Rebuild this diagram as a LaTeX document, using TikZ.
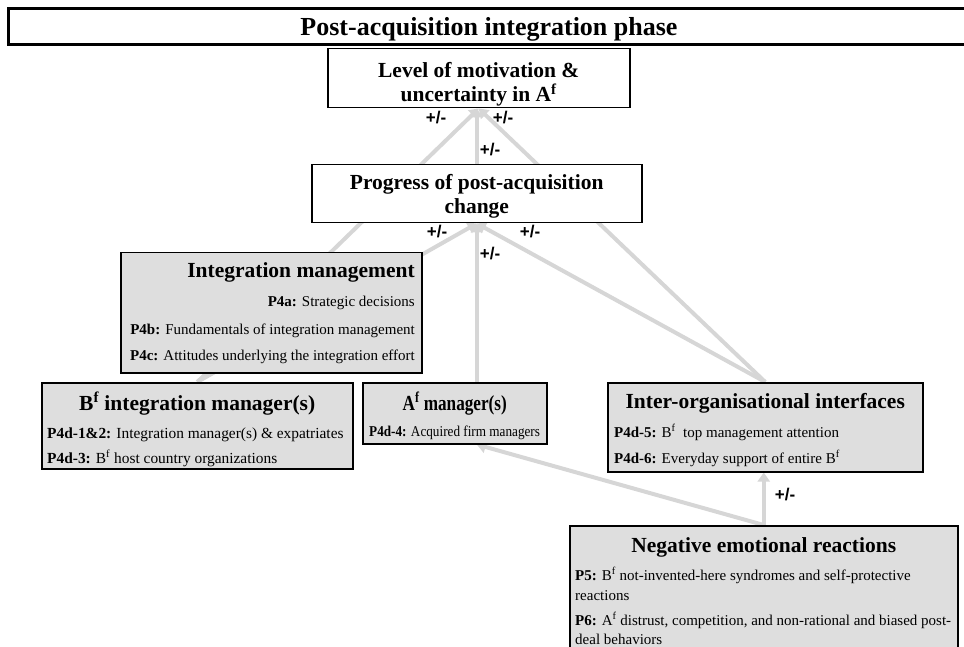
\documentclass[tikz,border=0pt]{standalone}
\usepackage{fontspec}
\setmainfont{Liberation Serif}
\newfontfamily\signfont{Liberation Sans}
\usetikzlibrary{arrows.meta}
\pgfdeclarelayer{background}
\pgfsetlayers{background,main}
\definecolor{boxgrey}{RGB}{222,222,222}
\definecolor{linkgrey}{RGB}{214,214,214}

\tikzset{
  plainbox/.style={draw=black, line width=1.5pt, fill=white, anchor=north west, inner sep=0pt},
  greybox/.style={plainbox, fill=boxgrey},
  link/.style={draw=linkgrey, line width=4pt, -{Triangle[length=9pt,width=12pt]}},
  head/.style={font=\fontsize{21.5}{24}\selectfont\bfseries, inner sep=0pt},
  body/.style={font=\fontsize{15}{18}\selectfont, inner sep=0pt},
  sign/.style={font=\signfont\bfseries\fontsize{17}{20}\selectfont, inner sep=0pt},
}

\begin{document}
\begin{tikzpicture}[x=1pt,y=-1pt]
\useasboundingbox (0,0) rectangle (964,647);
\clip (0,0) rectangle (964,647);

% phase banner
\node[plainbox, line width=3pt, minimum width=980pt, minimum height=36pt] (phase) at (7,7) {};
\node[font=\fontsize{26}{30}\selectfont\bfseries, inner sep=0pt, anchor=base] (phase-t) at (489,36) {Post-acquisition integration phase};

% outcome boxes
\node[plainbox, minimum width=302pt, minimum height=59pt] (lvl) at (327,48) {};
\node[head, anchor=base] (lvl-1) at (lvl.center |- 0,78) {Level of motivation \&};
\node[head, anchor=base] (lvl-2) at (lvl.center |- 0,102) {uncertainty in A\textsuperscript{f}};

\node[plainbox, minimum width=330pt, minimum height=58pt] (prog) at (311,164) {};
\node[head, anchor=base] (prog-1) at (prog.center |- 0,190) {Progress of post-acquisition};
\node[head, anchor=base] (prog-2) at (prog.center |- 0,214) {change};

% integration management
\node[greybox, minimum width=301pt, minimum height=120pt] (im) at (120,252) {};
\node[head, anchor=base east] (im-h) at (415,277) {Integration management};
\node[body, anchor=base east] (im-a) at (415,306) {\textbf{P4a:} Strategic decisions};
\node[body, anchor=base east] (im-b) at (415,334) {\textbf{P4b:} Fundamentals of integration management};
\node[body, anchor=base east] (im-c) at (415,360) {\textbf{P4c:} Attitudes underlying the integration effort};

% B^f integration managers
\node[greybox, minimum width=311pt, minimum height=86pt] (bm) at (41,382) {};
\node[head, anchor=base] (bm-h) at (bm.center |- 0,410) {B\textsuperscript{f} integration manager(s)};
\node[body, font=\fontsize{15.4}{18}\selectfont, anchor=base west] (bm-a) at (47,438) {\textbf{P4d-1\&2:} Integration manager(s) \& expatriates};
\node[body, font=\fontsize{15.4}{18}\selectfont, anchor=base west] (bm-b) at (47,463) {\textbf{P4d-3:} B\textsuperscript{f} host country organizations};

% A^f managers (narrow box, condensed lettering)
\node[greybox, minimum width=184pt, minimum height=61pt] (am) at (362,382) {};
\node[head, anchor=base] (am-h) at (am.center |- 0,410) {\scalebox{0.8}[1]{A\textsuperscript{f} manager(s)}};
\node[body, anchor=base west] (am-a) at (369,436) {\scalebox{0.88}[1]{\textbf{P4d-4:} Acquired firm managers}};

% inter-organisational interfaces
\node[greybox, minimum width=315pt, minimum height=89pt] (io) at (607,382) {};
\node[head, anchor=base] (io-h) at (io.center |- 0,408) {Inter-organisational interfaces};
\node[body, anchor=base west] (io-a) at (614,437) {\textbf{P4d-5:} B\textsuperscript{f}\ \ top management attention};
\node[body, anchor=base west] (io-b) at (614,463) {\textbf{P4d-6:} Everyday support of entire B\textsuperscript{f}};

% negative emotional reactions
\node[greybox, minimum width=388pt, minimum height=135pt] (neg) at (569,525) {};
\node[head, anchor=base] (neg-h) at (neg.center |- 0,552) {Negative emotional reactions};
\node[body, anchor=base west] (neg-a1) at (575,580) {\textbf{P5:} B\textsuperscript{f} not-invented-here syndromes and self-protective};
\node[body, anchor=base west] (neg-a2) at (575,600) {reactions};
\node[body, anchor=base west] (neg-b1) at (575,625) {\textbf{P6:} A\textsuperscript{f} distrust, competition, and non-rational and biased post-};
\node[body, anchor=base west] (neg-b2) at (575,644) {deal behaviors};

% influence links, drawn underneath the boxes
\begin{pgfonlayer}{background}
  \draw[link] (prog.north) -- (prog.north |- lvl.south);
  \draw[link] (bm.north) -- (lvl.south);
  \draw[link] (io.north) -- (lvl.south);
  \draw[link] (bm.north) -- (prog.south);
  \draw[link] (prog.south |- am.north) -- (prog.south);
  \draw[link] (io.north) -- (prog.south);
  \draw[link] (neg.north) -- (prog.south |- am.south);
  \draw[link] (neg.north) -- (neg.north |- io.south);
\end{pgfonlayer}

% signs of the effects
\node[sign] (s1) at (436,118) {+/-};
\node[sign] (s2) at (503,118) {+/-};
\node[sign] (s3) at (490,150) {+/-};
\node[sign] (s4) at (437,232) {+/-};
\node[sign] (s5) at (530,232) {+/-};
\node[sign] (s6) at (490,254) {+/-};
\node[sign] (s7) at (785,495) {+/-};
\end{tikzpicture}
\end{document}
